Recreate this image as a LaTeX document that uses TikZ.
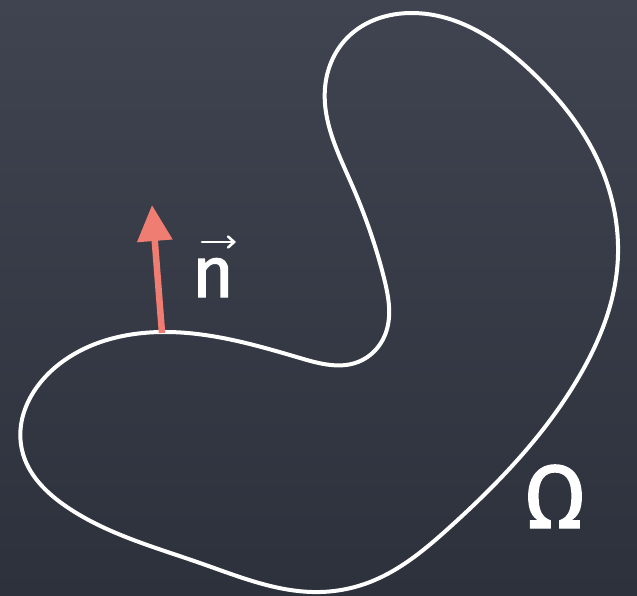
\documentclass[tikz,border=0pt]{standalone}
\usepackage{fontspec}
\setmainfont{Fira Sans}
\newfontfamily\chalkfont[FakeBold=1.6]{Fira Sans}
\usetikzlibrary{arrows.meta,hobby}
\definecolor{boardtop}{RGB}{64,68,80}
\definecolor{boardbot}{RGB}{45,49,60}
\definecolor{salmon}{RGB}{240,125,114}
\tikzset{
  boundary/.style={draw=white, line width=4pt, line join=round},
  normalvec/.style={draw=salmon, line width=6.5pt, -{Triangle[length=36pt,width=34pt]}},
  label/.style={text=white, inner sep=0pt},
}
\begin{document}
\begin{tikzpicture}[x=1pt,y=-1pt]
\useasboundingbox (0,0) rectangle (637,595);
\shade[top color=boardtop, bottom color=boardbot] (0,0) rectangle (637,595);
\draw[boundary, use Hobby shortcut, closed=true]
 (162,332) .. (300,358) .. (358,362) .. (385,335) .. (384,278) .. (352,185)
 .. (325,88) .. (347,38) .. (412,13) .. (533,73) .. (600,165) .. (617,270)
 .. (580,375) .. (450,527) .. (370,582) .. (320,592) .. (200,563) .. (67,507)
 .. (22,450) .. (62,362);
\coordinate (base) at (162,333);
\coordinate (tip) at (152,205);
\draw[normalvec] (base) -- (tip);
\node[label, anchor=base, font=\fontsize{72}{72}\chalkfont] (n) at (213,297) {n};
\coordinate (va) at (202,242);
\coordinate (vb) at (236,242);
\draw[white, line width=2.6pt, line cap=round, -{Straight Barb[length=6pt,width=11pt,line cap=round]}] (va) -- (vb);
\node[label, anchor=base, font=\fontsize{90}{90}\chalkfont] (omega) at (555,528) {Ω};
\end{tikzpicture}
\end{document}
